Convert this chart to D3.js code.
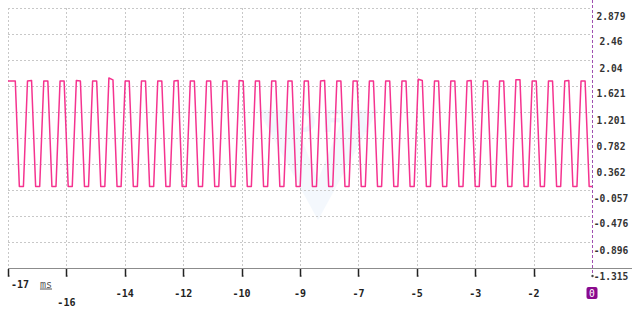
<!DOCTYPE html>
<html>
<head>
<meta charset="utf-8">
<script src="https://cdn.jsdelivr.net/npm/d3@7"></script>
<style>
  body { margin: 0; background: #fff; }
  svg { display: block; }
</style>
</head>
<body>
<div id="chart"></div>
<script>
// x ticks (ms) and the labels the plotter shows for them
var xTickTimes = [-17, -15.3, -13.6, -11.9, -10.2, -8.5, -6.8, -5.1, -3.4, -1.7, 0];
var xTickLabels = ["-17", "-16", "-14", "-12", "-10", "-9", "-7", "-5", "-3", "-2", "0"];

// y ticks (right axis)
var yTickLabels = ["2.879", "2.46", "2.04", "1.621", "1.201", "0.782", "0.362", "-0.057", "-0.476", "-0.896", "-1.315"];

// samples: first sample time and sample step in ms
var sampleStart = -17.025;
var sampleStep = 0.11848;
var samples = [
  1.70, 1.70, 1.70, 0.00, 0.00, 1.70, 1.71, 0.00, 0.00, 1.70, 1.70, 0.00, 0.00,
  1.70, 1.70, 0.00, 0.00, 1.71, 1.70, 0.00, 0.00, 1.70, 1.70, 0.00, 0.00,
  1.75, 1.72, 0.00, 0.00, 1.70, 1.70, 0.00, 0.00, 1.70, 1.70, 0.00, 0.00,
  1.70, 1.70, 0.00, 0.00, 1.70, 1.71, 0.00, 0.00, 1.70, 1.70, 0.00, 0.00,
  1.70, 1.70, 0.00, 0.00, 1.70, 1.70, 0.00, 0.00, 1.71, 1.70, 0.00, 0.00,
  1.70, 1.70, 0.00, 0.00, 1.70, 1.70, 0.00, 0.00, 1.70, 1.70, 0.00, 0.00,
  1.70, 1.70, 0.00, 0.00, 1.70, 1.71, 0.00, 0.00, 1.70, 1.70, 0.00, 0.00,
  1.70, 1.70, 0.00, 0.00, 1.70, 1.70, 0.00, 0.00, 1.70, 1.70, 0.00, 0.00,
  1.70, 1.70, 0.00, 0.00, 1.73, 1.71, 0.00, 0.00, 1.70, 1.70, 0.00, 0.00,
  1.70, 1.70, 0.00, 0.00, 1.70, 1.71, 0.00, 0.00, 1.70, 1.70, 0.00, 0.00,
  1.70, 1.70, 0.00, 0.00, 1.72, 1.72, 0.00, 0.00, 1.70, 1.70, 0.00, 0.00,
  1.70, 1.70, 0.00, 0.00, 1.70, 1.71, 0.00, 0.00,
  1.70, 1.70, 0.00, 0.00
];

var width = 640, height = 316;
var plot = {left: 8, right: 592, top: 8, bottom: 268};

var svg = d3.select("#chart")
  .append("svg")
    .attr("width", width)
    .attr("height", height);

var x = d3.scaleLinear()
    .domain([-17, 0])
    .range([plot.left, plot.right]);

var yTickValues = yTickLabels.map(Number);
var y = d3.scaleLinear()
    .domain([d3.min(yTickValues), d3.max(yTickValues)])
    .range([plot.bottom, plot.top]);

// faint watermark
var wm = svg.append("g").attr("opacity", 0.5);
wm.append("path")
    .attr("d", "M258,110 L290,110 L318,180 L346,110 L378,110 L318,220 Z")
    .attr("fill", "#eaf3fd");
wm.append("text")
    .attr("x", 318)
    .attr("y", 132)
    .attr("text-anchor", "middle")
    .style("font-family", "DejaVu Sans")
    .style("font-weight", "bold")
    .style("font-size", "30px")
    .style("letter-spacing", "6px")
    .attr("fill", "#e4effc")
    .text("VOFA");

// horizontal grid
svg.append("g")
  .selectAll("line")
  .data(yTickValues.slice(0, -1))
  .enter().append("line")
    .attr("x1", plot.left)
    .attr("x2", plot.right)
    .attr("y1", function(d) { return Math.round(y(d)) + 0.5; })
    .attr("y2", function(d) { return Math.round(y(d)) + 0.5; })
    .attr("stroke", "#c8c8c8")
    .attr("stroke-dasharray", "2,2");

// vertical grid
svg.append("g")
  .selectAll("line")
  .data(xTickTimes.slice(0, -1))
  .enter().append("line")
    .attr("x1", function(d) { return Math.round(x(d)) + 0.5; })
    .attr("x2", function(d) { return Math.round(x(d)) + 0.5; })
    .attr("y1", plot.top)
    .attr("y2", plot.bottom)
    .attr("stroke", "#c8c8c8")
    .attr("stroke-dasharray", "2,2");

// signal
svg.append("clipPath")
    .attr("id", "clip")
  .append("rect")
    .attr("x", plot.left)
    .attr("y", 0)
    .attr("width", plot.right - plot.left)
    .attr("height", plot.bottom);

var line = d3.line()
    .x(function(d, i) { return x(sampleStart + i * sampleStep); })
    .y(function(d) { return y(d); });

svg.append("path")
    .datum(samples)
    .attr("clip-path", "url(#clip)")
    .attr("fill", "none")
    .attr("stroke", "#f5338f")
    .attr("stroke-width", 1.5)
    .attr("stroke-linejoin", "round")
    .attr("d", line);

// bottom axis line
svg.append("line")
    .attr("x1", plot.left)
    .attr("x2", 632)
    .attr("y1", plot.bottom + 0.5)
    .attr("y2", plot.bottom + 0.5)
    .attr("stroke", "#8c8c8c");

// tick marks
svg.append("g")
  .selectAll("path")
  .data(xTickTimes.slice(0, -1))
  .enter().append("path")
    .attr("d", function(d) {
      var px = Math.round(x(d)) + 0.5;
      return "M" + px + "," + (plot.bottom + 1) + "V" + (plot.bottom + 8) + "h1";
    })
    .attr("fill", "none")
    .attr("stroke", "#222")
    .attr("stroke-width", 1.5);

// cursor line at 0
svg.append("line")
    .attr("x1", Math.round(x(0)) + 0.5)
    .attr("x2", Math.round(x(0)) + 0.5)
    .attr("y1", 0)
    .attr("y2", plot.bottom + 8)
    .attr("stroke", "#a050b0")
    .attr("stroke-dasharray", "3,2");
svg.append("circle")
    .attr("cx", x(0) + 0.5)
    .attr("cy", plot.bottom + 8)
    .attr("r", 1.2)
    .attr("fill", "#444");

// right labels
svg.append("g")
  .selectAll("text")
  .data(yTickLabels)
  .enter().append("text")
    .attr("x", 611)
    .attr("y", function(d) { return y(+d) + 11.5; })
    .attr("text-anchor", "middle")
    .style("font-family", "DejaVu Sans Mono")
    .style("font-size", "9.6px")
    .style("font-weight", "bold")
    .attr("fill", "#333")
    .text(function(d) { return d; });

// bottom labels
var labelRows = [284, 302, 293, 293, 293, 293, 293, 293, 293, 293];
svg.append("g")
  .selectAll("text")
  .data(xTickTimes.slice(0, -1))
  .enter().append("text")
    .attr("x", function(d, i) { return i === 0 ? x(d) + 12 : x(d); })
    .attr("y", function(d, i) { return labelRows[i] + 3.5; })
    .attr("text-anchor", "middle")
    .style("font-family", "DejaVu Sans Mono")
    .style("font-size", "10px")
    .style("font-weight", "bold")
    .attr("fill", "#222")
    .text(function(d, i) { return xTickLabels[i]; });

// unit
svg.append("text")
    .attr("x", 46)
    .attr("y", 287.5)
    .attr("text-anchor", "middle")
    .style("font-family", "DejaVu Sans Mono")
    .style("font-size", "10px")
    .style("text-decoration", "underline")
    .attr("fill", "#555")
    .text("ms");

// badge for 0
var badge = svg.append("g")
    .attr("transform", "translate(" + x(0) + ",293)");
badge.append("rect")
    .attr("x", -5.5)
    .attr("y", -6)
    .attr("width", 11)
    .attr("height", 12)
    .attr("rx", 2)
    .attr("fill", "#8a0a8e");
badge.append("text")
    .attr("y", 3.5)
    .attr("text-anchor", "middle")
    .style("font-family", "DejaVu Sans Mono")
    .style("font-size", "9.6px")
    .attr("fill", "#fff")
    .text(xTickLabels[xTickLabels.length - 1]);
</script>
</body>
</html>
